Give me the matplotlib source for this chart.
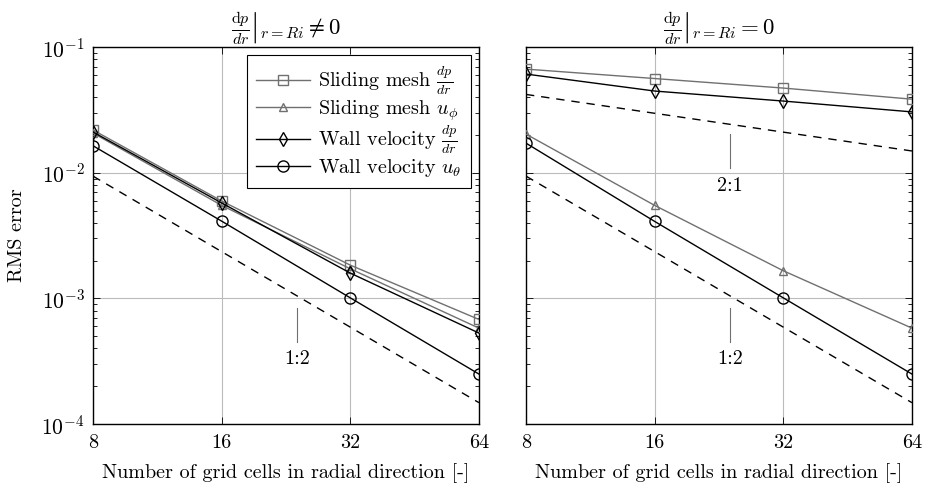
import matplotlib
matplotlib.use("Agg")
import matplotlib.pyplot as plt
from matplotlib.ticker import LogLocator, NullFormatter, FixedLocator, FixedFormatter

plt.rcParams['font.family'] = ['cmr10', 'DejaVu Serif']
plt.rcParams['mathtext.fontset'] = 'cm'
plt.rcParams['axes.formatter.use_mathtext'] = True
plt.rcParams['axes.unicode_minus'] = False

# Data
cells = [8, 16, 32, 64]
xticklabels = ['8', '16', '32', '64']

# left panel: dp/dr|_{r=Ri} != 0
left_sm_dpdr = [0.0219, 0.00596, 0.00184, 0.00068]
left_sm_uphi = [0.0207, 0.0055, 0.00172, 0.00058]
left_wv_dpdr = [0.0211, 0.00575, 0.00159, 0.00053]
left_wv_uth  = [0.0164, 0.00412, 0.00101, 0.00025]

# right panel: dp/dr|_{r=Ri} = 0
right_sm_dpdr = [0.0668, 0.0562, 0.0472, 0.0385]
right_sm_uphi = [0.0203, 0.0055, 0.00166, 0.00058]
right_wv_dpdr = [0.061, 0.0447, 0.0372, 0.0305]
right_wv_uth  = [0.0172, 0.0041, 0.00101, 0.00025]

# slope guide lines (endpoints)
guide_x = [8, 64]
guide_12 = [0.0094, 0.000148]
guide_21 = [0.042, 0.0149]

gray = '#707070'
fs = 14.5

fig = plt.figure(figsize=(9.3, 4.88), dpi=100)
ax1 = fig.add_axes([0.1, 0.131, 0.415, 0.7725])
ax2 = fig.add_axes([0.5656, 0.131, 0.415, 0.7725])


def draw(ax, sm_dpdr, sm_uphi, wv_dpdr, wv_uth):
    ax.plot(cells, sm_dpdr, color=gray, lw=1.0, marker='s', ms=7, mfc='none',
            mec=gray, label=r'Sliding mesh $\frac{dp}{dr}$', zorder=3)
    ax.plot(cells, sm_uphi, color=gray, lw=1.0, marker='^', ms=6, mfc='none',
            mec=gray, label=r'Sliding mesh $u_\phi$', zorder=3)
    ax.plot(cells, wv_dpdr, color='black', lw=1.0, marker='d', ms=7, mfc='none',
            mec='black', label=r'Wall velocity $\frac{dp}{dr}$', zorder=4)
    ax.plot(cells, wv_uth, color='black', lw=1.0, marker='o', ms=8, mfc='none',
            mec='black', label=r'Wall velocity $u_\theta$', zorder=4)
    ax.set_xscale('log', base=2)
    ax.set_yscale('log')
    ax.set_xlim(8, 64)
    ax.set_ylim(1e-4, 1e-1)
    ax.xaxis.set_major_locator(FixedLocator(cells))
    ax.xaxis.set_major_formatter(FixedFormatter(xticklabels))
    ax.xaxis.set_minor_locator(FixedLocator([]))
    ax.yaxis.set_major_locator(LogLocator(base=10, numticks=10))
    ax.yaxis.set_minor_locator(LogLocator(base=10, subs=range(2, 10), numticks=10))
    ax.yaxis.set_minor_formatter(NullFormatter())
    ax.grid(True, which='major', color='#bbbbbb', lw=0.8)
    ax.tick_params(which='both', direction='in', top=True, right=True,
                   labelsize=fs, width=0.6)
    ax.tick_params(which='major', length=5)
    ax.tick_params(which='minor', length=3)
    ax.tick_params(axis='x', pad=7)
    ax.tick_params(axis='y', labelsize=15.5, pad=6)
    for s in ax.spines.values():
        s.set_linewidth(1.0)
    ax.set_xlabel('Number of grid cells in radial direction [-]', fontsize=fs, labelpad=8)


draw(ax1, left_sm_dpdr, left_sm_uphi, left_wv_dpdr, left_wv_uth)
draw(ax2, right_sm_dpdr, right_sm_uphi, right_wv_dpdr, right_wv_uth)

ax1.plot(guide_x, guide_12, color='black', lw=1.0, ls=(0, (6, 5)))
ax2.plot(guide_x, guide_12, color='black', lw=1.0, ls=(0, (6, 5)))
ax2.plot(guide_x, guide_21, color='black', lw=1.0, ls=(0, (6, 5)))

# slope annotations
for ax in (ax1, ax2):
    ax.plot([24, 24], [8.4e-4, 4.5e-4], color=gray, lw=0.8)
    ax.text(24, 3.3e-4, '1:2', ha='center', va='center', fontsize=fs)
ax2.plot([24, 24], [0.0203, 0.0109], color=gray, lw=0.8)
ax2.text(24, 0.0079, '2:1', ha='center', va='center', fontsize=fs)

ax2.tick_params(labelleft=False)
ax1.set_ylabel('RMS error', fontsize=fs, labelpad=11)

ax1.set_title(r'$\left.\frac{\mathrm{d}p}{dr}\right|_{r=Ri} \neq 0$', fontsize=16.5, pad=6)
ax2.set_title(r'$\left.\frac{\mathrm{d}p}{dr}\right|_{r=Ri} = 0$', fontsize=16.5, pad=6)

leg = ax1.legend(loc='upper right', fontsize=fs, fancybox=False, framealpha=1,
                 edgecolor='black', handlelength=2.7, borderaxespad=0.4,
                 labelspacing=0.05, handletextpad=0.4, borderpad=0.45)
leg.get_frame().set_linewidth(0.8)

fig.savefig('out.png', dpi=100)
